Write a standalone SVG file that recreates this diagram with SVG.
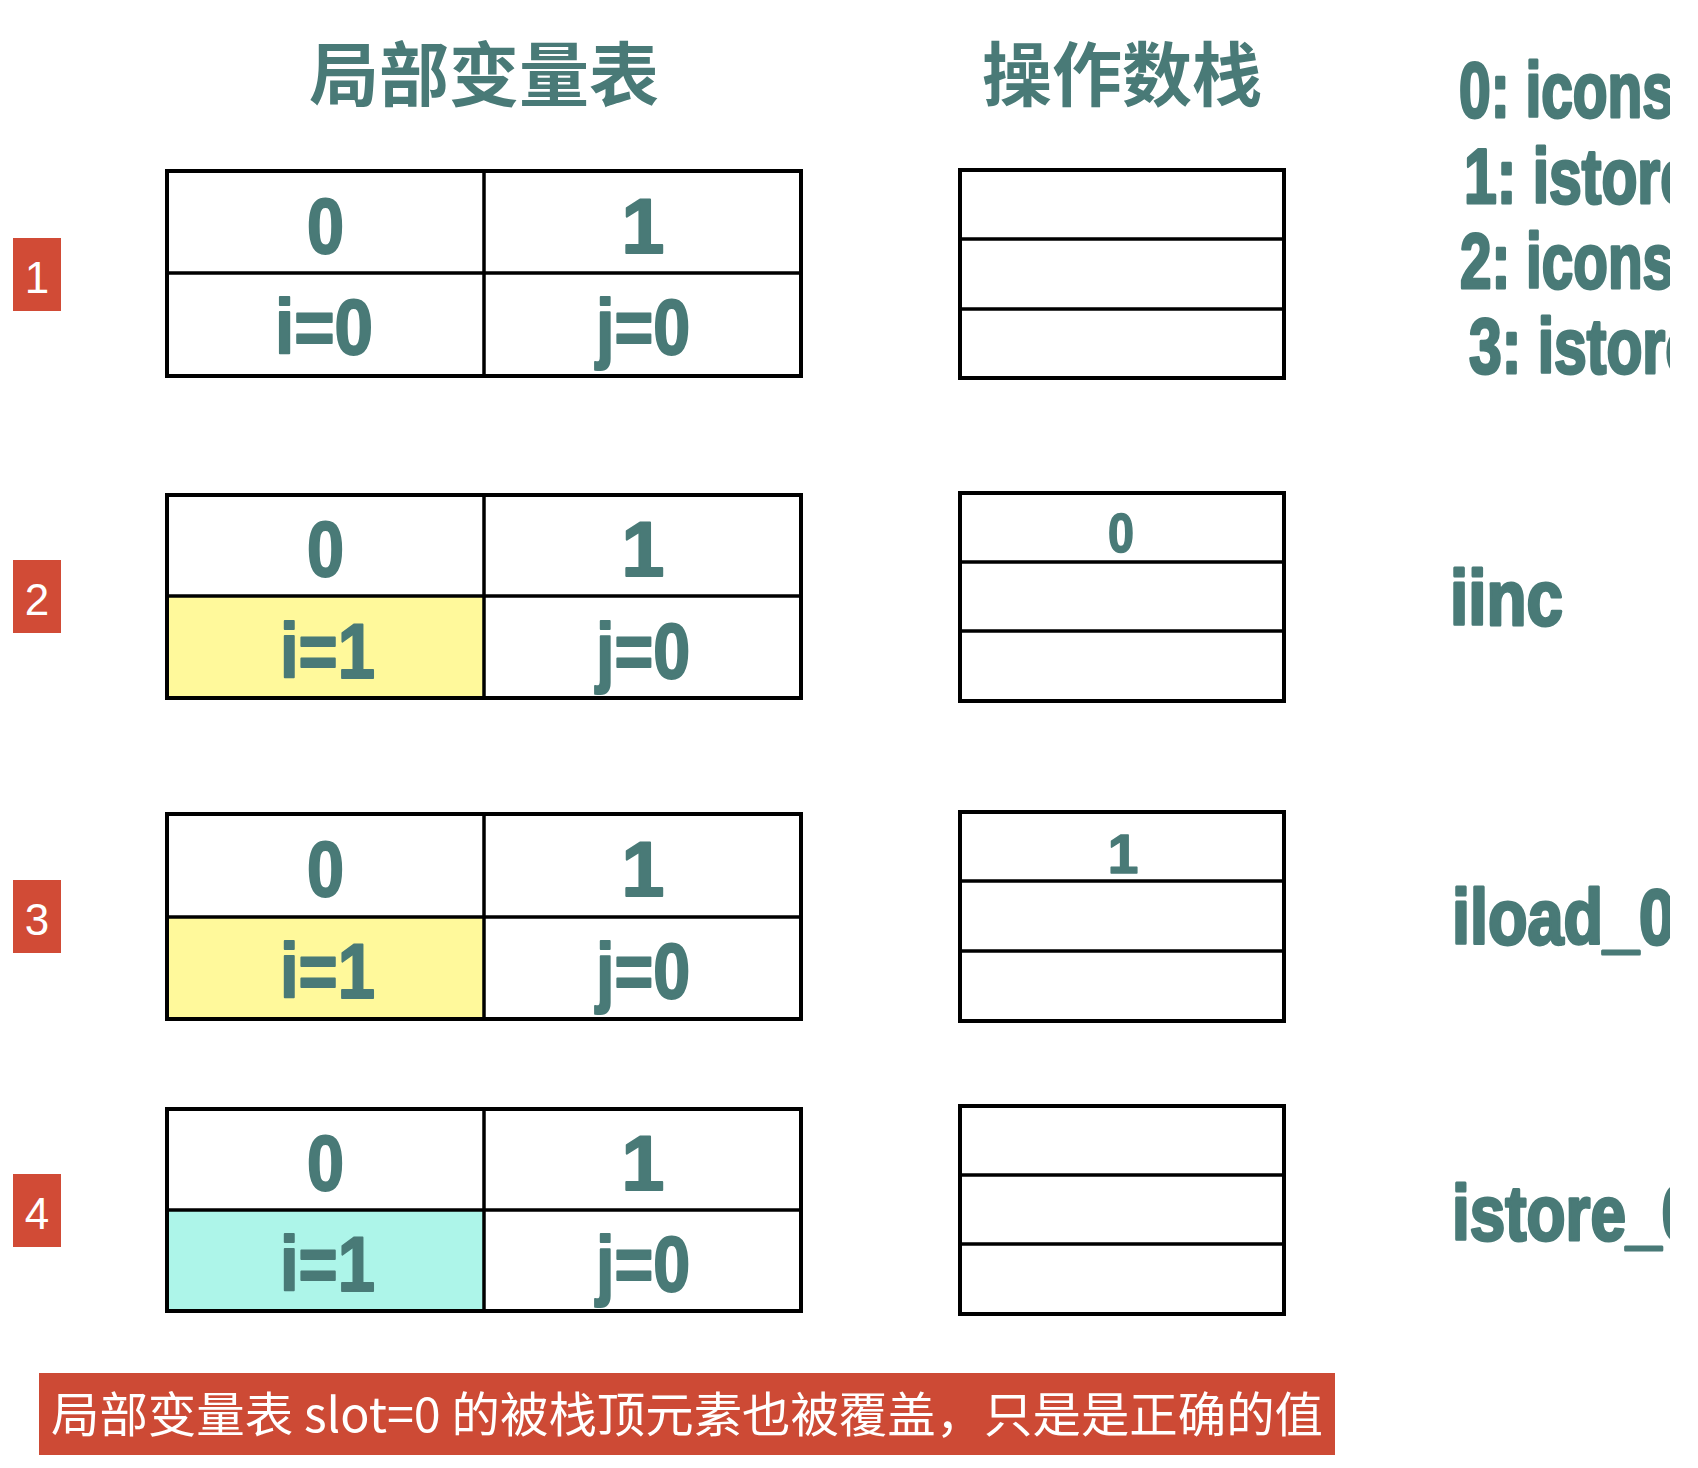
<svg xmlns="http://www.w3.org/2000/svg" width="1698" height="1468" viewBox="0 0 1698 1468">
<defs>
<style>
.title{font-family:"Noto Sans CJK SC",sans-serif;font-weight:700;font-size:70px;fill:#497a77;text-anchor:middle}
.big{font-family:"Liberation Sans",Arial,sans-serif;font-weight:700;font-size:77px;fill:#497a77;stroke:#497a77;stroke-width:2;stroke-linejoin:round}
.stk{font-family:"Liberation Sans",Arial,sans-serif;font-weight:700;font-size:55px;fill:#497a77;stroke:#497a77;stroke-width:1.5;stroke-linejoin:round}
.ins{font-family:"Liberation Sans",Arial,sans-serif;font-weight:700;font-size:77px;fill:#497a77;stroke:#497a77;stroke-width:3;stroke-linejoin:round}
.badge rect{fill:#d14b36}
.badge text{font-family:"Liberation Sans",Arial,sans-serif;font-size:44px;fill:#fff;text-anchor:middle}
.frame{fill:none;stroke:#000;stroke-width:4}
.grid{stroke:#000;stroke-width:3.5}
.yel{fill:#fff99b}
.cyan{fill:#adf5e9}
.bantext{font-family:"Noto Sans CJK SC",sans-serif;font-size:48px;fill:#fff}
</style>
<clipPath id="clipR"><rect x="0" y="0" width="1670" height="1468"/></clipPath>
</defs>
<rect width="1698" height="1468" fill="#fff"/>

<g id="title-lvt"><text class="title" x="484" y="101">局部变量表</text></g>
<g id="title-stack"><text class="title" x="1122" y="101">操作数栈</text></g>

<g id="badge-1" class="badge"><rect x="13" y="238" width="48" height="73"/><text x="37" y="293">1</text></g>
<g id="badge-2" class="badge"><rect x="13" y="560" width="48" height="73"/><text x="37" y="615">2</text></g>
<g id="badge-3" class="badge"><rect x="13" y="880" width="48" height="73"/><text x="37" y="935">3</text></g>
<g id="badge-4" class="badge"><rect x="13" y="1174" width="48" height="73"/><text x="37" y="1229">4</text></g>

<g id="lvt-1">
<rect class="frame" x="167" y="171" width="634" height="205"/>
<line class="grid" x1="167" y1="273" x2="801" y2="273"/>
<line class="grid" x1="484" y1="171" x2="484" y2="376"/>
<text class="big" x="307" y="253" textLength="37" lengthAdjust="spacingAndGlyphs">0</text>
<text class="big" x="643" y="253" text-anchor="middle">1</text>
<text class="big" x="275" y="354" textLength="98" lengthAdjust="spacingAndGlyphs">i=0</text>
<text class="big" x="596" y="354" textLength="94" lengthAdjust="spacingAndGlyphs">j=0</text>
</g>

<g id="lvt-2">
<rect class="yel" x="167" y="596" width="317" height="102"/>
<rect class="frame" x="167" y="495" width="634" height="203"/>
<line class="grid" x1="167" y1="596" x2="801" y2="596"/>
<line class="grid" x1="484" y1="495" x2="484" y2="698"/>
<text class="big" x="307" y="576" textLength="37" lengthAdjust="spacingAndGlyphs">0</text>
<text class="big" x="643" y="576" text-anchor="middle">1</text>
<text class="big" x="280" y="678" textLength="95" lengthAdjust="spacingAndGlyphs">i=1</text>
<text class="big" x="596" y="678" textLength="94" lengthAdjust="spacingAndGlyphs">j=0</text>
</g>

<g id="lvt-3">
<rect class="yel" x="167" y="917" width="317" height="102"/>
<rect class="frame" x="167" y="814" width="634" height="205"/>
<line class="grid" x1="167" y1="917" x2="801" y2="917"/>
<line class="grid" x1="484" y1="814" x2="484" y2="1019"/>
<text class="big" x="307" y="896" textLength="37" lengthAdjust="spacingAndGlyphs">0</text>
<text class="big" x="643" y="896" text-anchor="middle">1</text>
<text class="big" x="280" y="998" textLength="95" lengthAdjust="spacingAndGlyphs">i=1</text>
<text class="big" x="596" y="998" textLength="94" lengthAdjust="spacingAndGlyphs">j=0</text>
</g>

<g id="lvt-4">
<rect class="cyan" x="167" y="1210" width="317" height="101"/>
<rect class="frame" x="167" y="1109" width="634" height="202"/>
<line class="grid" x1="167" y1="1210" x2="801" y2="1210"/>
<line class="grid" x1="484" y1="1109" x2="484" y2="1311"/>
<text class="big" x="307" y="1190" textLength="37" lengthAdjust="spacingAndGlyphs">0</text>
<text class="big" x="643" y="1190" text-anchor="middle">1</text>
<text class="big" x="280" y="1291" textLength="95" lengthAdjust="spacingAndGlyphs">i=1</text>
<text class="big" x="596" y="1291" textLength="94" lengthAdjust="spacingAndGlyphs">j=0</text>
</g>

<g id="stack-1">
<rect class="frame" x="960" y="170" width="324" height="208"/>
<line class="grid" x1="960" y1="239" x2="1284" y2="239"/>
<line class="grid" x1="960" y1="309" x2="1284" y2="309"/>
</g>
<g id="stack-2">
<rect class="frame" x="960" y="493" width="324" height="208"/>
<line class="grid" x1="960" y1="562" x2="1284" y2="562"/>
<line class="grid" x1="960" y1="631" x2="1284" y2="631"/>
<text class="stk" x="1108" y="552" textLength="26" lengthAdjust="spacingAndGlyphs">0</text>
</g>
<g id="stack-3">
<rect class="frame" x="960" y="812" width="324" height="209"/>
<line class="grid" x1="960" y1="881" x2="1284" y2="881"/>
<line class="grid" x1="960" y1="951" x2="1284" y2="951"/>
<text class="stk" x="1123" y="873" text-anchor="middle">1</text>
</g>
<g id="stack-4">
<rect class="frame" x="960" y="1106" width="324" height="208"/>
<line class="grid" x1="960" y1="1175" x2="1284" y2="1175"/>
<line class="grid" x1="960" y1="1244" x2="1284" y2="1244"/>
</g>

<g id="instructions" clip-path="url(#clipR)">
<text class="ins" x="1459" y="117" textLength="215" lengthAdjust="spacingAndGlyphs">0: icons</text>
<text class="ins" x="1464" y="203" textLength="229" lengthAdjust="spacingAndGlyphs">1: istore</text>
<text class="ins" x="1460" y="288" textLength="214" lengthAdjust="spacingAndGlyphs">2: icons</text>
<text class="ins" x="1469" y="373" textLength="229" lengthAdjust="spacingAndGlyphs">3: istore</text>
<text class="ins" x="1450" y="625" textLength="113" lengthAdjust="spacingAndGlyphs">iinc</text>
<text class="ins" x="1452" y="944" textLength="223" lengthAdjust="spacingAndGlyphs">iload_0</text>
<text class="ins" x="1452" y="1240" textLength="245" lengthAdjust="spacingAndGlyphs">istore_0</text>
</g>

<g id="connectors"></g>

<g id="banner">
<rect x="39" y="1373" width="1296" height="82" fill="#cd4a35"/>
<text class="bantext" x="51" y="1432" textLength="1272" lengthAdjust="spacingAndGlyphs">局部变量表 slot=0 的被栈顶元素也被覆盖，只是是正确的值</text>
</g>
</svg>
